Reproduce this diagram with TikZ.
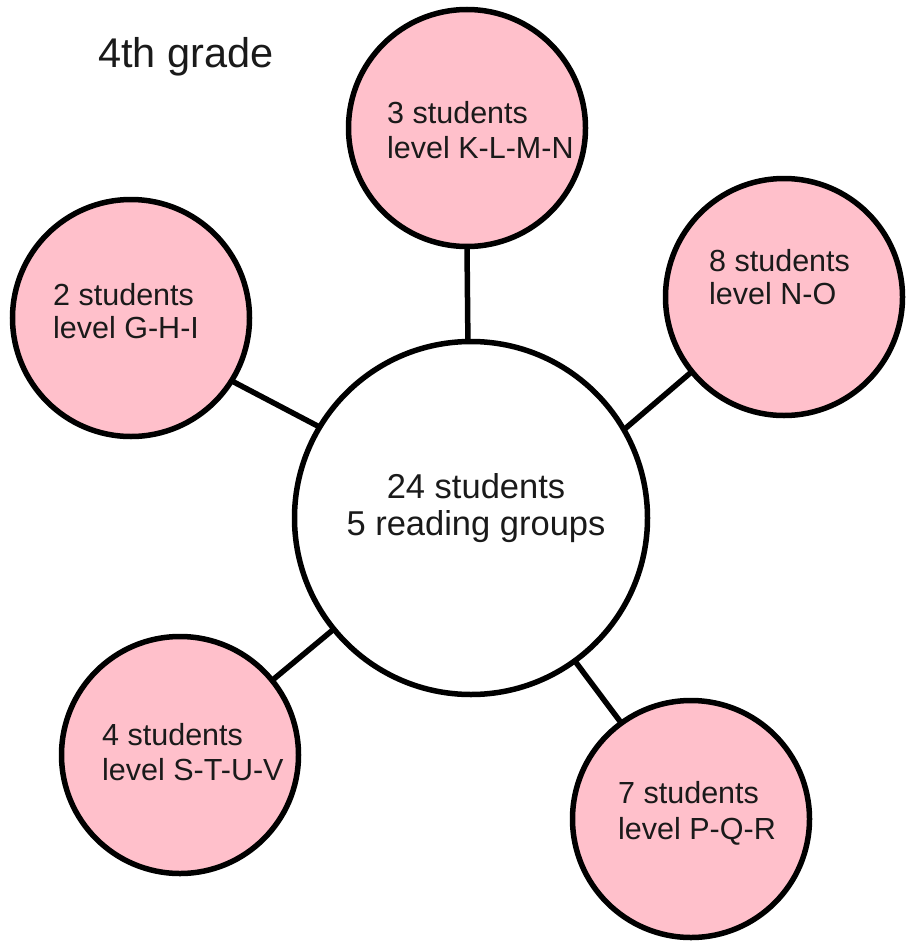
\documentclass[tikz,border=0pt]{standalone}
\usepackage{fontspec}
\setmainfont{Liberation Sans}
\definecolor{pinkfill}{HTML}{FFC0CB}
\definecolor{txt}{HTML}{1A1A1A}
\tikzset{
  group/.style={circle, draw=black, line width=5.5pt, fill=pinkfill, minimum size=237pt, inner sep=0pt, outer sep=0pt},
  hub/.style={circle, draw=black, line width=5.5pt, fill=white, minimum size=353pt, inner sep=0pt, outer sep=0pt},
  link/.style={line width=5.5pt},
  lbl/.style={anchor=base west, inner sep=0pt, text=txt, font=\fontsize{30.5}{34}\selectfont},
  hubtxt/.style={anchor=base, inner sep=0pt, text=txt, font=\fontsize{34.5}{38}\selectfont},
  titletxt/.style={anchor=base west, inner sep=0pt, text=txt, font=\fontsize{41.5}{46}\selectfont}
}
\begin{document}
\begin{tikzpicture}[x=1pt, y=-1pt]
\useasboundingbox (0,0) rectangle (907,942);
\node[titletxt] (title) at (98,67) {4th grade};

\node[group] (T) at (467,128) {};
\node[group] (L) at (131,318) {};
\node[group] (R) at (784,297) {};
\node[group] (BL) at (180,755) {};
\node[group] (BR) at (691,819) {};
\node[hub] (C) at (471,518) {};

\draw[link] (T.270) -- (C.91.3);
\draw[link] (L.-32.3) -- (C.149.3);
\draw[link] (R.219.6) -- (C.30.8);
\draw[link] (BL.39.4) -- (C.219.6);
\draw[link] (BR.126.4) -- (C.-54.7);

\node[lbl] (t1) at (387,123) {3 students};
\node[lbl] (t2) at (387,158) {level K-L-M-N};
\node[lbl] (r1) at (709,271) {8 students};
\node[lbl] (r2) at (709,304) {level N-O};
\node[lbl] (l1) at (53,305) {2 students};
\node[lbl] (l2) at (53,338) {level G-H-I};
\node[lbl] (bl1) at (102,745) {4 students};
\node[lbl] (bl2) at (102,780) {level S-T-U-V};
\node[lbl] (br1) at (618,803) {7 students};
\node[lbl] (br2) at (618,839) {level P-Q-R};

\node[hubtxt] (c1) at (476,498) {24 students};
\node[hubtxt] (c2) at (476,535) {5 reading groups};
\end{tikzpicture}
\end{document}
